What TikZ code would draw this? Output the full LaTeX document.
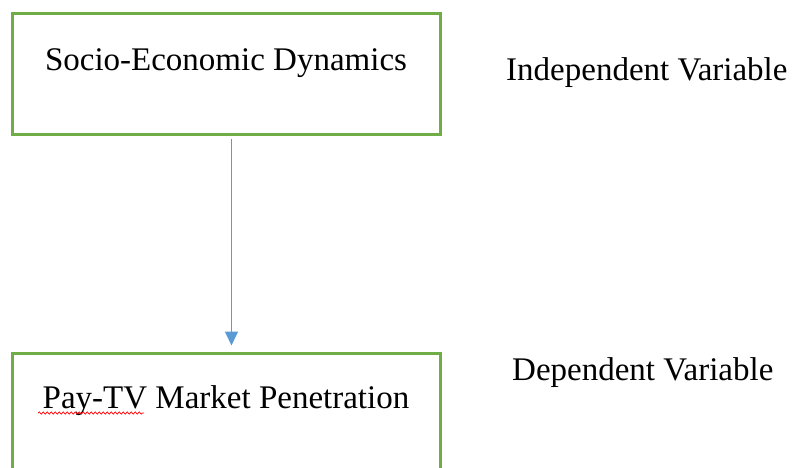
\documentclass[tikz,border=0pt]{standalone}
\usepackage{fontspec}
\setmainfont{Liberation Serif}
\usetikzlibrary{arrows.meta,decorations.pathmorphing}
\definecolor{boxgreen}{RGB}{112,173,71}
\definecolor{arrowblue}{RGB}{91,155,213}
\begin{document}
\begin{tikzpicture}[x=1pt,y=-1pt,
  varbox/.style={draw=boxgreen, line width=3pt, minimum width=428pt,
    inner sep=0pt, anchor=north west, text height=#1,
    font=\fontsize{33}{40}\selectfont},
  side/.style={anchor=base west, inner sep=0pt,
    font=\fontsize{33}{40}\selectfont},
  link/.style={draw=arrowblue, line width=1.5pt,
    -{Triangle[width=13pt,length=14pt]}}]
  \useasboundingbox (0,0) rectangle (794,467);
  \clip (0,0) rectangle (794,467);
  % variable boxes
  \node[varbox=57.5pt, text depth=64pt] (iv) at (10.5,11.5) {Socio-Economic Dynamics};
  \node[varbox=55.5pt, text depth=90pt] (dv) at (10.5,351.5) {Pay-TV Market Penetration};
  % causal link
  \draw[link] ([xshift=5.5pt,yshift=-3pt]iv.south) -- ([xshift=5.5pt,yshift=6pt]dv.north);
  % role labels
  \node[side] (ivlab) at (506,80) {Independent Variable};
  \node[side] (dvlab) at (512,380) {Dependent Variable};
  % spelling mark under the first word
  \draw[red, line width=0.7pt, decorate,
    decoration={snake, amplitude=1.1pt, segment length=4pt}] (38,413) -- (144,413);
\end{tikzpicture}
\end{document}
